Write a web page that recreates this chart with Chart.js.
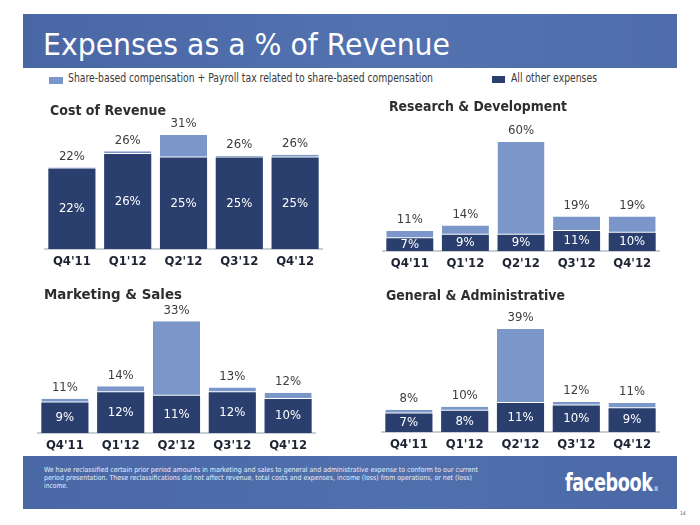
<!DOCTYPE html>
<html>
<head>
<meta charset="utf-8">
<script src="https://cdn.jsdelivr.net/npm/chart.js@4.4.1/dist/chart.umd.min.js"></script>
<style>
  html, body { margin: 0; padding: 0; background: #fff; }
  #page { position: relative; width: 700px; height: 525px; overflow: hidden; background: #fff;
          font-family: "DejaVu Sans Condensed", "DejaVu Sans", sans-serif; }
  .abs { position: absolute; white-space: nowrap; }
  .fit { transform-origin: 0 0; }
  #header { left: 23px; top: 14px; width: 654px; height: 54px;
            background: linear-gradient(90deg, #4966a5 0%, #5372b0 55%, #4f6dab 100%); }
  #title { left: 20px; top: 15px; font-size: 31px; line-height: 31px; color: #fff; }
  .legtxt { font-size: 12px; line-height: 12px; color: #3a3a3a; }
  .ptitle { font-size: 13.5px; line-height: 13.5px; font-weight: bold; color: #2e2e2e; z-index: 5; }
  #footer { left: 23px; top: 456px; width: 654px; height: 53px;
            background: linear-gradient(90deg, #4a67a6 0%, #5070ad 60%, #4b68a7 100%); }
  .ftxt { font-size: 7px; line-height: 7px; color: #e8eef8; }
  #fb { left: 542px; top: 15px; font-size: 24px; line-height: 24px; font-weight: bold; color: #fff; letter-spacing: -0.5px; }
  canvas { position: absolute; }
</style>
</head>
<body>
<div id="page">
  <div id="header" class="abs">
    <div id="title" class="abs fit" data-w="407">Expenses as a % of Revenue</div>
  </div>
  <div class="abs" style="left:49px;top:77px;width:14px;height:7px;background:#7b97c9;"></div>
  <div class="abs legtxt fit" style="left:68px;top:72px;" data-w="365">Share-based compensation + Payroll tax related to share-based compensation</div>
  <div class="abs" style="left:492px;top:76px;width:13px;height:7px;background:#2b3f6e;"></div>
  <div class="abs legtxt fit" style="left:511px;top:72px;" data-w="86">All other expenses</div>

  <div class="abs ptitle fit" style="left:50px;top:104px;" data-w="116">Cost of Revenue</div>
  <div class="abs ptitle fit" style="left:389px;top:100px;" data-w="178">Research &amp; Development</div>
  <div class="abs ptitle fit" style="left:44px;top:288px;" data-w="138">Marketing &amp; Sales</div>
  <div class="abs ptitle fit" style="left:386px;top:289px;" data-w="179">General &amp; Administrative</div>

  <canvas id="c1" width="279" height="172" style="left:44px;top:101px;"></canvas>
  <canvas id="c2" width="278" height="162" style="left:382px;top:113px;"></canvas>
  <canvas id="c3" width="279" height="166" style="left:37px;top:291px;"></canvas>
  <canvas id="c4" width="279" height="155" style="left:381px;top:301px;"></canvas>

  <div id="footer" class="abs">
    <div class="abs ftxt fit" style="left:21px;top:11px;" data-w="434">We have reclassified certain prior period amounts in marketing and sales to general and administrative expense to conform to our current</div>
    <div class="abs ftxt fit" style="left:21px;top:19px;" data-w="428">period presentation. These reclassifications did not affect revenue, total costs and expenses, income (loss) from operations, or net (loss)</div>
    <div class="abs ftxt fit" style="left:21px;top:27px;" data-w="24">income.</div>
    <div id="fb" class="abs fit" data-w="94">facebook<span style="color:#9fb5e0">.</span></div>
  </div>
  <div class="abs" style="left:680px;top:511px;font-size:5px;line-height:5px;color:#666;">14</div>
</div>

<script>
// ---- Data ----
const quarters = ["Q4'11", "Q1'12", "Q2'12", "Q3'12", "Q4'12"];

// Cost of Revenue
const corOther = [22, 26, 25, 25, 25];
const corShare = [0.3, 0.7, 6.2, 0.4, 0.8];
const corTotal = [22, 26, 31, 26, 26];

// Research & Development
const rdOther = [7, 9, 9, 11, 10];
const rdShare = [4, 5, 51, 8, 9];
const rdTotal = [11, 14, 60, 19, 19];

// Marketing & Sales
const msOther = [9, 12, 11, 12, 10];
const msShare = [1.1, 1.8, 22, 1.4, 1.9];
const msTotal = [11, 14, 33, 13, 12];

// General & Administrative
const gaOther = [7, 8, 11, 10, 9];
const gaShare = [1.4, 1.6, 28, 1.4, 2];
const gaTotal = [8, 10, 39, 12, 11];

// ---- Styling ----
const DARK = '#2b3f6e';
const LIGHT = '#7b97c9';
const FONT = '"DejaVu Sans Condensed", "DejaVu Sans", sans-serif';

function fitTexts() {
  document.querySelectorAll('.fit').forEach(el => {
    const w = parseFloat(el.dataset.w);
    const cur = el.getBoundingClientRect().width;
    if (w && cur) el.style.transform = 'scaleX(' + (w / cur) + ')';
  });
}

function makePanel(id, other, share, total, yMax) {
  const valuePlugin = {
    id: 'values_' + id,
    afterDatasetsDraw(chart) {
      const ctx = chart.ctx;
      const m0 = chart.getDatasetMeta(0);
      const m1 = chart.getDatasetMeta(1);
      ctx.save();
      ctx.font = '13px ' + FONT;
      ctx.textAlign = 'center';
      ctx.textBaseline = 'middle';
      m0.data.forEach((bar, i) => {
        ctx.fillStyle = '#ffffff';
        ctx.fillText(other[i] + '%', bar.x, (bar.y + bar.base) / 2);
        const top = m1.data[i].y;
        ctx.fillStyle = '#3c3c3c';
        ctx.fillText(total[i] + '%', bar.x, top - 11);
      });
      ctx.restore();
    }
  };
  return new Chart(document.getElementById(id), {
    type: 'bar',
    data: {
      labels: quarters,
      datasets: [
        { label: 'All other expenses', data: other, backgroundColor: DARK, borderWidth: 0 },
        { label: 'Share-based compensation', data: share, backgroundColor: LIGHT,
          borderColor: '#ffffff', borderWidth: { top: 0, left: 0, right: 0, bottom: 1 }, borderSkipped: false }
      ]
    },
    options: {
      responsive: false,
      animation: false,
      events: [],
      layout: { padding: { top: 20, left: 0, right: 0, bottom: 0 } },
      datasets: { bar: { categoryPercentage: 1, barPercentage: 0.845 } },
      plugins: { legend: { display: false }, title: { display: false }, tooltip: { enabled: false } },
      scales: {
        x: {
          stacked: true,
          grid: { display: false, drawTicks: false },
          border: { display: true, color: '#c9cdd6', width: 2 },
          ticks: { color: '#1f2433', padding: 5, font: { family: FONT, size: 13, weight: 'bold' } },
          afterFit: s => { s.height = 24; }
        },
        y: { stacked: true, display: false, min: 0, max: yMax }
      }
    },
    plugins: [valuePlugin]
  });
}

fitTexts();
makePanel('c1', corOther, corShare, corTotal, 35);
makePanel('c2', rdOther, rdShare, rdTotal, 65);
makePanel('c3', msOther, msShare, msTotal, 36);
makePanel('c4', gaOther, gaShare, gaTotal, 42);
</script>
</body>
</html>
